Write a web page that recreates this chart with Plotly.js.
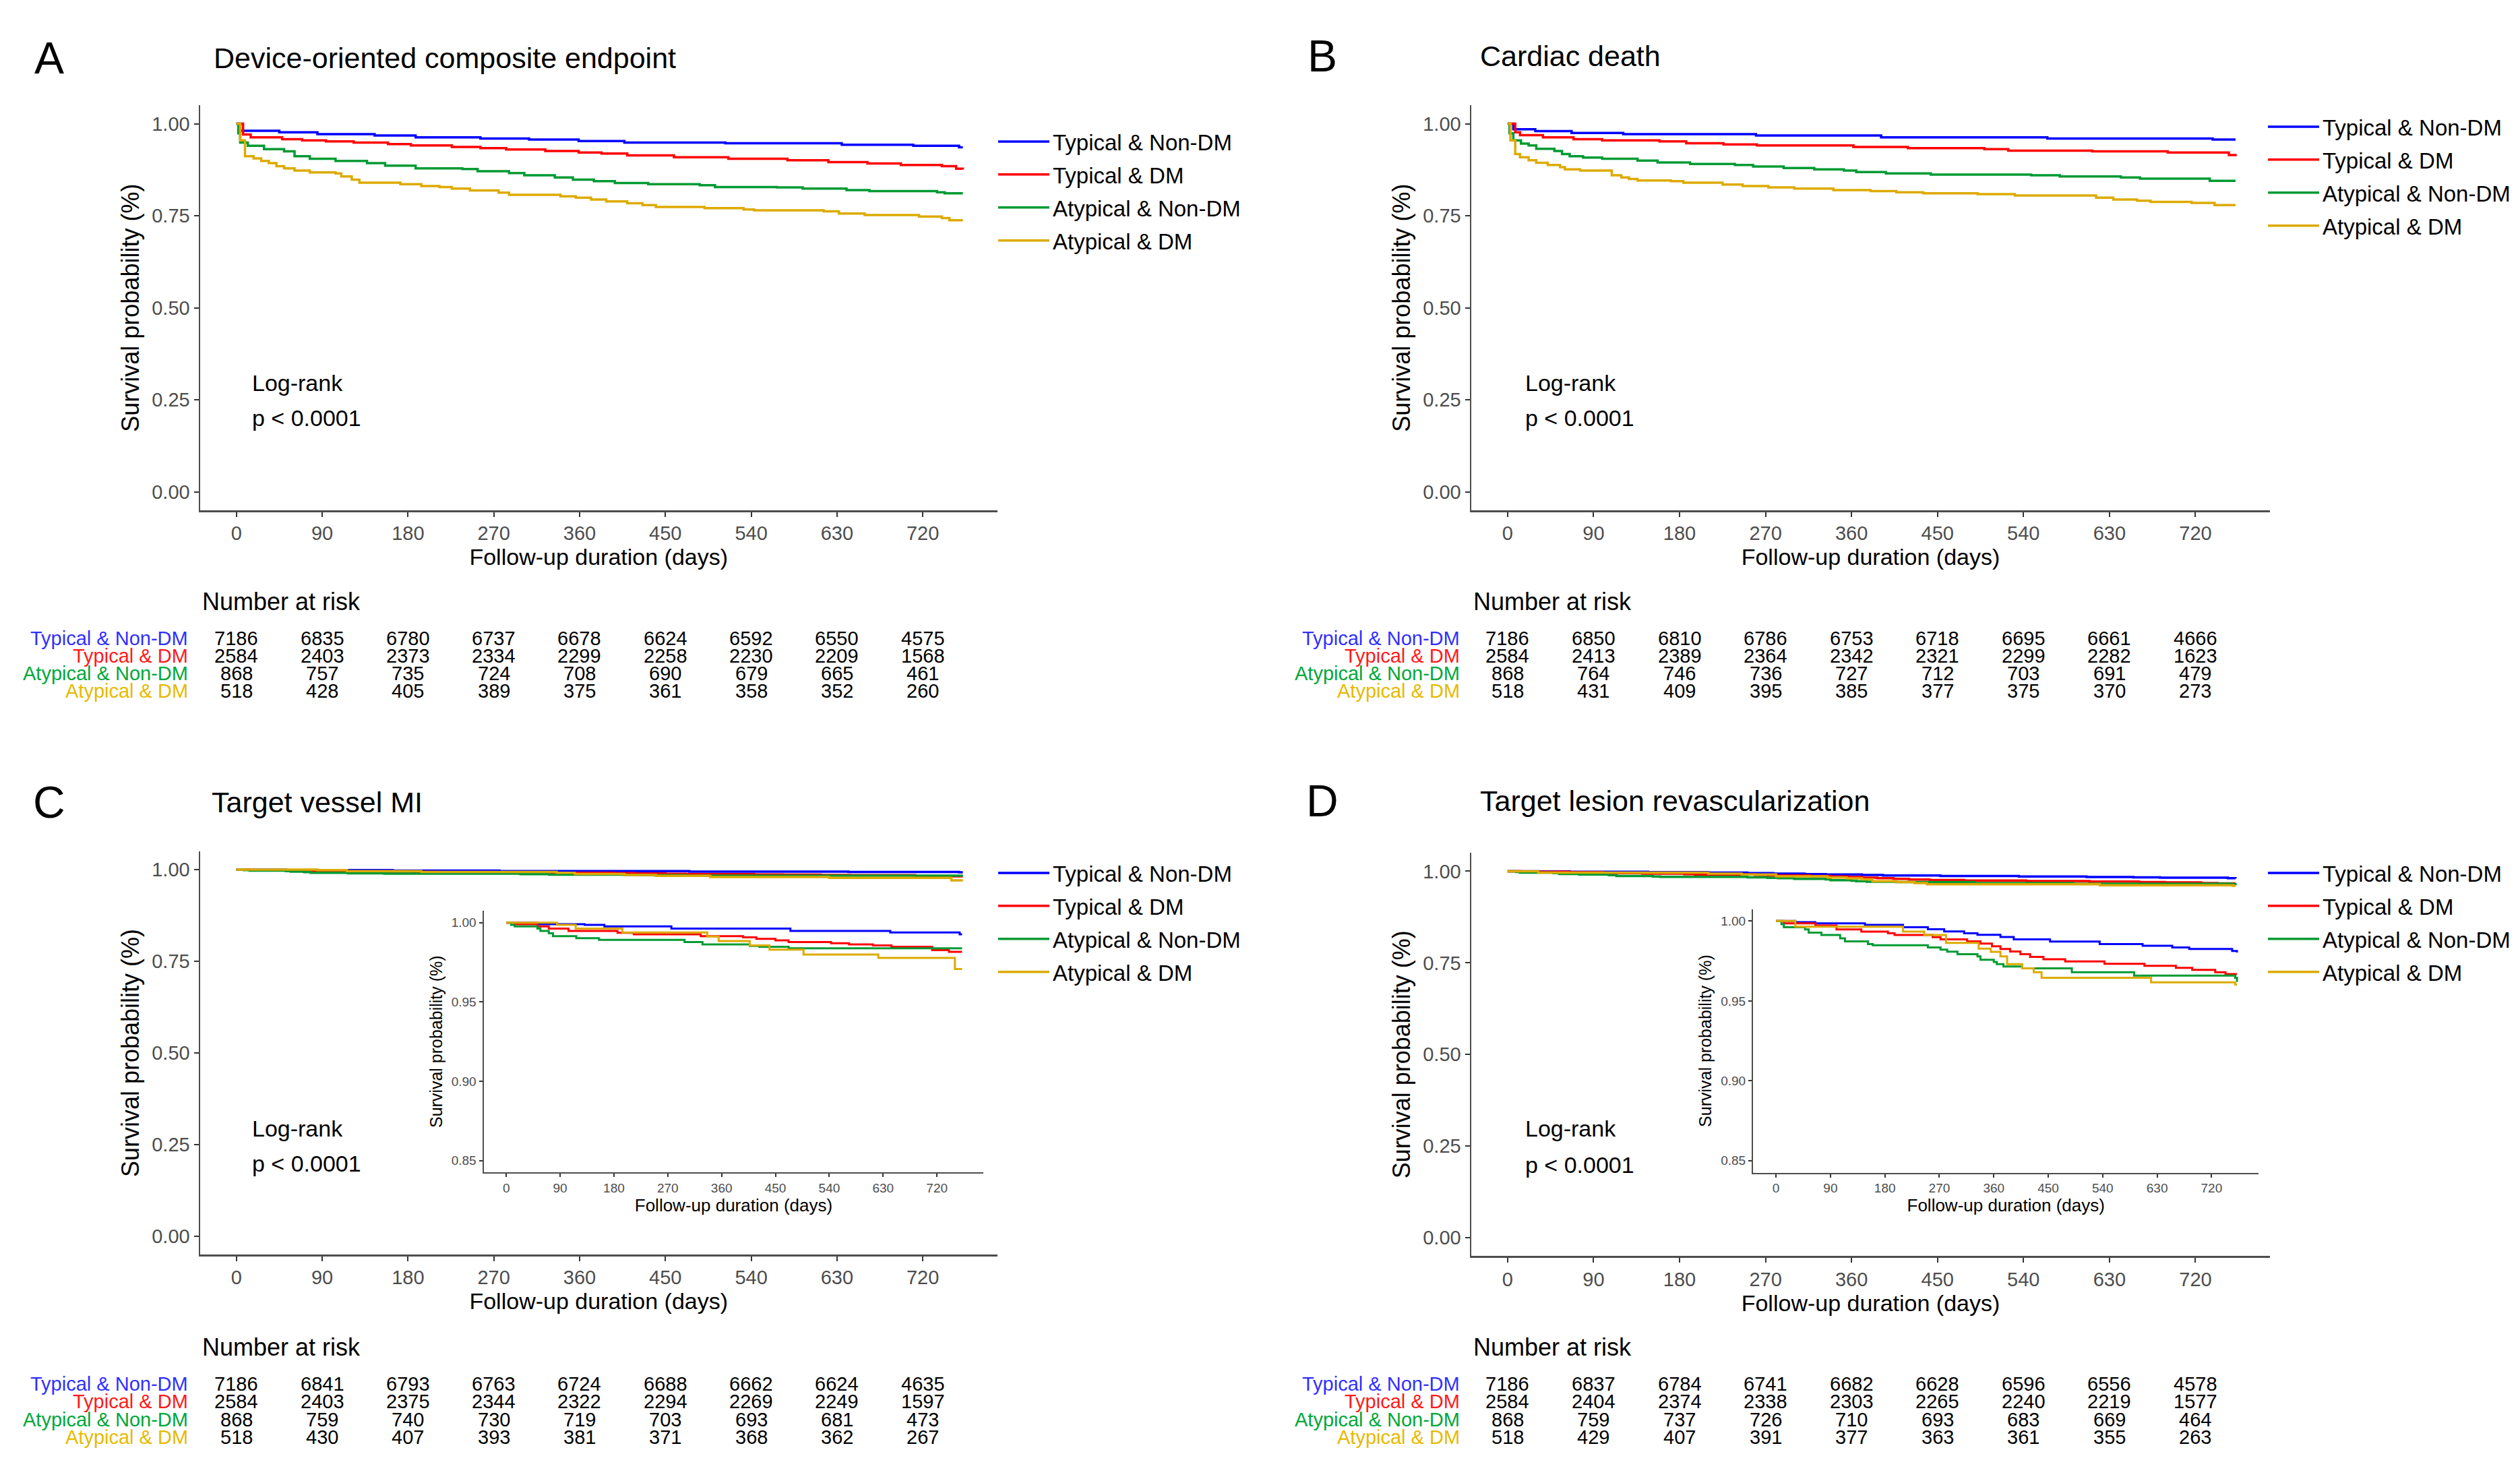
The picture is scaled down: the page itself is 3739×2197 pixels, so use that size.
<!DOCTYPE html>
<html>
<head>
<meta charset="utf-8">
<script src="https://cdn.plot.ly/plotly-3.0.1.min.js"></script>
<style>html,body{margin:0;padding:0;background:#fff;}#chart{width:3739px;height:2197px;}</style>
</head>
<body>
<div id="chart"></div>
<script>
// ---------------- DATA ----------------
const seriesNames = ['Typical & Non-DM', 'Typical & DM', 'Atypical & Non-DM', 'Atypical & DM'];
const panelTitles = ['Device-oriented composite endpoint', 'Cardiac death', 'Target vessel MI', 'Target lesion revascularization'];
const panelLetters = ['A', 'B', 'C', 'D'];
const xTickDays = [0, 90, 180, 270, 360, 450, 540, 630, 720];
const riskTimes = [0, 90, 180, 270, 360, 450, 540, 630, 720];

// Panel A: Device-oriented composite endpoint (time in days, survival)
const A_TN_t = [0, 4, 45, 85, 145, 188, 256, 307, 359, 407, 513, 635, 710, 758, 762];
const A_TN_s = [1, 0.981, 0.977, 0.972, 0.968, 0.963, 0.960, 0.957, 0.953, 0.949, 0.947, 0.943, 0.940, 0.936, 0.936];
const A_TD_t = [0, 7, 15, 48, 69, 94, 123, 159, 183, 226, 256, 283, 324, 359, 383, 410, 459, 516, 578, 621, 662, 697, 740, 755, 762];
const A_TD_s = [1, 0.971, 0.963, 0.958, 0.955, 0.952, 0.949, 0.945, 0.941, 0.937, 0.934, 0.930, 0.926, 0.922, 0.919, 0.914, 0.909, 0.905, 0.901, 0.896, 0.892, 0.888, 0.885, 0.878, 0.876];
const A_AN_t = [0, 2, 4, 12, 29, 50, 61, 77, 104, 137, 156, 188, 237, 253, 286, 302, 334, 353, 375, 397, 432, 486, 502, 567, 594, 640, 664, 735, 743, 762];
const A_AN_s = [1, 0.974, 0.949, 0.940, 0.931, 0.925, 0.912, 0.905, 0.899, 0.893, 0.886, 0.879, 0.877, 0.871, 0.866, 0.860, 0.854, 0.848, 0.844, 0.839, 0.836, 0.833, 0.828, 0.827, 0.824, 0.820, 0.817, 0.814, 0.811, 0.811];
const A_AD_t = [0, 4, 9, 18, 26, 34, 42, 50, 61, 77, 104, 110, 121, 129, 172, 194, 213, 226, 245, 275, 286, 340, 356, 372, 388, 410, 426, 440, 491, 532, 543, 616, 632, 659, 716, 740, 748, 762];
const A_AD_s = [1, 0.955, 0.912, 0.906, 0.899, 0.893, 0.885, 0.879, 0.873, 0.868, 0.865, 0.857, 0.848, 0.840, 0.836, 0.831, 0.828, 0.824, 0.819, 0.813, 0.807, 0.803, 0.799, 0.794, 0.789, 0.784, 0.779, 0.774, 0.771, 0.767, 0.765, 0.762, 0.756, 0.752, 0.748, 0.744, 0.738, 0.738];

// Panel B: Cardiac death
const B_TN_t = [0, 6, 29, 67, 121, 260, 391, 565, 738, 762];
const B_TN_s = [1, 0.985, 0.980, 0.975, 0.972, 0.968, 0.963, 0.960, 0.957, 0.957];
const B_TD_t = [0, 8, 13, 37, 69, 99, 159, 187, 226, 261, 362, 419, 499, 524, 612, 691, 755, 762];
const B_TD_s = [1, 0.977, 0.969, 0.963, 0.958, 0.955, 0.952, 0.947, 0.944, 0.941, 0.937, 0.934, 0.931, 0.927, 0.925, 0.922, 0.915, 0.912];
const B_AN_t = [0, 2, 6, 14, 22, 30, 49, 57, 65, 79, 99, 136, 157, 191, 238, 257, 289, 321, 352, 365, 396, 443, 548, 578, 642, 662, 735, 762];
const B_AN_s = [1, 0.974, 0.955, 0.946, 0.941, 0.932, 0.926, 0.918, 0.912, 0.908, 0.905, 0.900, 0.895, 0.891, 0.888, 0.884, 0.880, 0.876, 0.873, 0.869, 0.865, 0.862, 0.860, 0.857, 0.854, 0.851, 0.845, 0.845];
const B_AD_t = [0, 3, 8, 13, 22, 30, 42, 55, 60, 76, 109, 119, 127, 136, 171, 184, 225, 246, 273, 300, 341, 380, 407, 435, 492, 531, 616, 634, 659, 673, 716, 740, 762];
const B_AD_s = [1, 0.955, 0.918, 0.909, 0.901, 0.894, 0.888, 0.882, 0.876, 0.873, 0.860, 0.854, 0.850, 0.846, 0.844, 0.840, 0.835, 0.831, 0.827, 0.824, 0.820, 0.817, 0.814, 0.811, 0.809, 0.805, 0.799, 0.794, 0.791, 0.788, 0.785, 0.779, 0.779];

// Panel C: Target vessel MI
const C_TN_t = [0, 52, 131, 164, 276, 475, 642, 758, 762];
const C_TN_s = [1, 0.9990, 0.9986, 0.9976, 0.9962, 0.9948, 0.9938, 0.9926, 0.9926];
const C_TD_t = [0, 14, 52, 71, 104, 186, 213, 325, 396, 418, 450, 472, 543, 573, 613, 644, 712, 740, 762];
const C_TD_s = [1, 0.9990, 0.9976, 0.9962, 0.9948, 0.9936, 0.9926, 0.9915, 0.9907, 0.9898, 0.9888, 0.9877, 0.9870, 0.9863, 0.9856, 0.9848, 0.9827, 0.9816, 0.9816];
const C_AN_t = [0, 8, 14, 52, 57, 71, 78, 117, 155, 298, 328, 407, 423, 472, 762];
const C_AN_s = [1, 0.9986, 0.9976, 0.9962, 0.9948, 0.9933, 0.9915, 0.9902, 0.9891, 0.9877, 0.9863, 0.9853, 0.9848, 0.9838, 0.9838];
const C_AD_t = [0, 85, 116, 194, 336, 355, 407, 440, 497, 622, 750, 762];
const C_AD_s = [1, 0.9986, 0.9962, 0.9938, 0.9912, 0.9884, 0.9856, 0.9830, 0.9799, 0.9778, 0.9707, 0.9707];

// Panel D: Target lesion revascularization
const D_TN_t = [0, 32, 65, 147, 210, 251, 278, 311, 333, 371, 393, 453, 535, 606, 655, 683, 754, 762];
const D_TN_s = [1, 0.9993, 0.9986, 0.9976, 0.9962, 0.9949, 0.9935, 0.9923, 0.9914, 0.9900, 0.9886, 0.9872, 0.9856, 0.9845, 0.9835, 0.9825, 0.9813, 0.9803];
const D_TD_t = [0, 13, 65, 100, 141, 185, 196, 259, 272, 316, 338, 357, 371, 387, 404, 420, 442, 478, 543, 609, 661, 688, 726, 743, 762];
const D_TD_s = [1, 0.9986, 0.9972, 0.9948, 0.9934, 0.9923, 0.9913, 0.9899, 0.9885, 0.9873, 0.9859, 0.9842, 0.9825, 0.9810, 0.9793, 0.9776, 0.9761, 0.9747, 0.9733, 0.9720, 0.9707, 0.9695, 0.9680, 0.9668, 0.9668];
const D_AN_t = [0, 9, 13, 48, 54, 75, 106, 114, 152, 160, 251, 272, 283, 300, 333, 338, 360, 365, 376, 407, 489, 592, 759, 762];
const D_AN_s = [1, 0.9980, 0.9962, 0.9948, 0.9928, 0.9913, 0.9892, 0.9873, 0.9856, 0.9849, 0.9835, 0.9821, 0.9809, 0.9793, 0.9779, 0.9758, 0.9744, 0.9730, 0.9716, 0.9704, 0.9680, 0.9659, 0.9645, 0.9620];
const D_AD_t = [0, 32, 210, 245, 281, 335, 355, 371, 382, 407, 426, 439, 620, 759, 762];
const D_AD_s = [1, 0.9965, 0.9934, 0.9913, 0.9863, 0.9828, 0.9807, 0.9779, 0.9730, 0.9704, 0.9680, 0.9645, 0.9617, 0.9603, 0.9603];

// Number at risk tables
const A_risk_TN = [7186, 6835, 6780, 6737, 6678, 6624, 6592, 6550, 4575];
const A_risk_TD = [2584, 2403, 2373, 2334, 2299, 2258, 2230, 2209, 1568];
const A_risk_AN = [868, 757, 735, 724, 708, 690, 679, 665, 461];
const A_risk_AD = [518, 428, 405, 389, 375, 361, 358, 352, 260];
const B_risk_TN = [7186, 6850, 6810, 6786, 6753, 6718, 6695, 6661, 4666];
const B_risk_TD = [2584, 2413, 2389, 2364, 2342, 2321, 2299, 2282, 1623];
const B_risk_AN = [868, 764, 746, 736, 727, 712, 703, 691, 479];
const B_risk_AD = [518, 431, 409, 395, 385, 377, 375, 370, 273];
const C_risk_TN = [7186, 6841, 6793, 6763, 6724, 6688, 6662, 6624, 4635];
const C_risk_TD = [2584, 2403, 2375, 2344, 2322, 2294, 2269, 2249, 1597];
const C_risk_AN = [868, 759, 740, 730, 719, 703, 693, 681, 473];
const C_risk_AD = [518, 430, 407, 393, 381, 371, 368, 362, 267];
const D_risk_TN = [7186, 6837, 6784, 6741, 6682, 6628, 6596, 6556, 4578];
const D_risk_TD = [2584, 2404, 2374, 2338, 2303, 2265, 2240, 2219, 1577];
const D_risk_AN = [868, 759, 737, 726, 710, 693, 683, 669, 464];
const D_risk_AD = [518, 429, 407, 391, 377, 363, 361, 355, 263];

const logRankText = 'Log-rank';
const pValueText = 'p < 0.0001';

// ---------------- STYLE / LAYOUT ----------------
const W = 3739, H = 2197;
const FONT = 'Liberation Sans, Arial, sans-serif';
const lineColors = ['#0000FF', '#FF0000', '#009A33', '#DDAA00'];
const labelColors = ['#3030FF', '#FF1A1A', '#00A83A', '#E6BA00'];
const px = v => v / W;
const py = v => 1 - v / H;

const curves = [
  [[A_TN_t, A_TN_s], [A_TD_t, A_TD_s], [A_AN_t, A_AN_s], [A_AD_t, A_AD_s]],
  [[B_TN_t, B_TN_s], [B_TD_t, B_TD_s], [B_AN_t, B_AN_s], [B_AD_t, B_AD_s]],
  [[C_TN_t, C_TN_s], [C_TD_t, C_TD_s], [C_AN_t, C_AN_s], [C_AD_t, C_AD_s]],
  [[D_TN_t, D_TN_s], [D_TD_t, D_TD_s], [D_AN_t, D_AN_s], [D_AD_t, D_AD_s]]
];
const risks = [
  [A_risk_TN, A_risk_TD, A_risk_AN, A_risk_AD],
  [B_risk_TN, B_risk_TD, B_risk_AN, B_risk_AD],
  [C_risk_TN, C_risk_TD, C_risk_AN, C_risk_AD],
  [D_risk_TN, D_risk_TD, D_risk_AN, D_risk_AD]
];

// geometry (pixels in the 3739x2197 canvas)
const geo = [
  {xa: 'x',  ya: 'y',  xd: [297, 1479.5], yd: [156.3, 757], legend: 'legend',  leg: [1476, 182],
   letter: [73, 86], title: [315, 86], lr: [372, 568], pv: [372, 620], nar: [298, 892], labR: 281, rows: [947, 973, 999, 1025]},
  {xa: 'x2', ya: 'y2', xd: [2183, 3368], yd: [156.3, 757], legend: 'legend2', leg: [3360, 160],
   letter: [1962, 83], title: [2194, 83], lr: [2261, 568], pv: [2261, 620], nar: [2184, 892], labR: 2168, rows: [947, 973, 999, 1025]},
  {xa: 'x3', ya: 'y3', xd: [297, 1479.5], yd: [1262.9, 1861], legend: 'legend3', leg: [1476, 1267],
   letter: [73, 1190], title: [312, 1190], lr: [372, 1674], pv: [372, 1726], nar: [298, 1998], labR: 281, rows: [2053, 2079, 2106, 2132]},
  {xa: 'x4', ya: 'y4', xd: [2183, 3368], yd: [1265.3, 1863.3], legend: 'legend4', leg: [3360, 1267],
   letter: [1962, 1188], title: [2194, 1188], lr: [2261, 1674], pv: [2261, 1728], nar: [2184, 1998], labR: 2168, rows: [2053, 2079, 2106, 2132]}
];
const insets = [
  {panel: 2, xa: 'x5', ya: 'y5', xd: [717.5, 1459.4], yd: [1351, 1739.4]},
  {panel: 3, xa: 'x6', ya: 'y6', xd: [2601, 3351.4], yd: [1348.6, 1739.6]}
];

const traces = [];
const annotations = [];
const layout = {
  width: W, height: H,
  margin: {l: 0, r: 0, t: 0, b: 0, pad: 0},
  paper_bgcolor: '#ffffff', plot_bgcolor: '#ffffff',
  font: {family: FONT, color: '#000'},
  showlegend: true,
  annotations: annotations
};

function axisCommon(isInset) {
  return {
    showline: true, linecolor: '#4d4d4d', linewidth: isInset ? 2 : 2.5,
    showgrid: false, zeroline: false,
    ticks: 'outside', ticklen: isInset ? 5 : 7, tickwidth: 2, tickcolor: '#333333',
    tickfont: {family: FONT, size: isInset ? 19 : 29, color: '#4D4D4D'},
    fixedrange: true
  };
}

geo.forEach((g, p) => {
  const xn = g.xa === 'x' ? 'xaxis' : 'xaxis' + g.xa.slice(1);
  const yn = g.ya === 'y' ? 'yaxis' : 'yaxis' + g.ya.slice(1);
  layout[xn] = Object.assign(axisCommon(false), {
    domain: [px(g.xd[0]), px(g.xd[1])], anchor: g.ya, range: [-38, 798],
    tickmode: 'array', tickvals: xTickDays, ticktext: xTickDays.map(String),
    title: {text: 'Follow-up duration (days)', font: {family: FONT, size: 34, color: '#000'}, standoff: 4}
  });
  layout[yn] = Object.assign(axisCommon(false), {
    domain: [py(g.yd[1]), py(g.yd[0])], anchor: g.xa, range: [-0.05, 1.05],
    tickmode: 'array', tickvals: [0, 0.25, 0.5, 0.75, 1], tickformat: '.2f',
    title: {text: 'Survival probability (%)', font: {family: FONT, size: 36, color: '#000'}, standoff: 8}
  });
  layout[g.legend] = {
    x: px(g.leg[0]), y: py(g.leg[1]), xanchor: 'left', yanchor: 'top',
    bgcolor: 'rgba(0,0,0,0)', borderwidth: 0,
    font: {family: FONT, size: 33, color: '#000'},
    itemwidth: 76, tracegroupgap: 3, traceorder: 'grouped'
  };
  curves[p].forEach((c, i) => {
    traces.push({
      type: 'scatter', mode: 'lines', x: c[0], y: c[1],
      xaxis: g.xa, yaxis: g.ya, name: seriesNames[i],
      legend: g.legend, legendgroup: 'g' + p + '_' + i, showlegend: true,
      line: {shape: 'hv', color: lineColors[i], width: 3.5},
      hoverinfo: 'skip'
    });
  });
  // panel letter & title
  annotations.push({xref: 'paper', yref: 'paper', x: px(g.letter[0]), y: py(g.letter[1]), text: panelLetters[p],
    showarrow: false, xanchor: 'center', yanchor: 'middle', font: {family: FONT, size: 66, color: '#000'}});
  annotations.push({xref: 'paper', yref: 'paper', x: px(g.title[0]), y: py(g.title[1]), text: panelTitles[p],
    showarrow: false, xanchor: 'left', yanchor: 'middle', font: {family: FONT, size: 43, color: '#000'}});
  annotations.push({xref: 'paper', yref: 'paper', x: px(g.lr[0]), y: py(g.lr[1]), text: logRankText,
    showarrow: false, xanchor: 'left', yanchor: 'middle', font: {family: FONT, size: 34, color: '#000'}});
  annotations.push({xref: 'paper', yref: 'paper', x: px(g.pv[0]), y: py(g.pv[1]), text: pValueText,
    showarrow: false, xanchor: 'left', yanchor: 'middle', font: {family: FONT, size: 34, color: '#000'}});
  annotations.push({xref: 'paper', yref: 'paper', x: px(g.nar[0]), y: py(g.nar[1]), text: 'Number at risk',
    showarrow: false, xanchor: 'left', yanchor: 'middle', font: {family: FONT, size: 36, color: '#000'}});
  // risk table
  risks[p].forEach((row, i) => {
    annotations.push({xref: 'paper', yref: 'paper', x: px(g.labR), y: py(g.rows[i]), text: seriesNames[i],
      showarrow: false, xanchor: 'right', yanchor: 'middle', font: {family: FONT, size: 29, color: labelColors[i]}});
    row.forEach((n, k) => {
      annotations.push({xref: g.xa, yref: 'paper', x: riskTimes[k], y: py(g.rows[i]), text: String(n),
        showarrow: false, xanchor: 'center', yanchor: 'middle', font: {family: FONT, size: 29, color: '#000'}});
    });
  });
});

insets.forEach(ins => {
  const xn = 'xaxis' + ins.xa.slice(1);
  const yn = 'yaxis' + ins.ya.slice(1);
  layout[xn] = Object.assign(axisCommon(true), {
    domain: [px(ins.xd[0]), px(ins.xd[1])], anchor: ins.ya, range: [-38, 798],
    tickmode: 'array', tickvals: xTickDays, ticktext: xTickDays.map(String),
    title: {text: 'Follow-up duration (days)', font: {family: FONT, size: 26, color: '#000'}, standoff: 4}
  });
  layout[yn] = Object.assign(axisCommon(true), {
    domain: [py(ins.yd[1]), py(ins.yd[0])], anchor: ins.xa, range: [0.8425, 1.0075],
    tickmode: 'array', tickvals: [0.85, 0.90, 0.95, 1.00], tickformat: '.2f',
    title: {text: 'Survival probability (%)', font: {family: FONT, size: 25, color: '#000'}, standoff: 6}
  });
  curves[ins.panel].forEach((c, i) => {
    traces.push({
      type: 'scatter', mode: 'lines', x: c[0], y: c[1],
      xaxis: ins.xa, yaxis: ins.ya, name: seriesNames[i], showlegend: false,
      line: {shape: 'hv', color: lineColors[i], width: 3},
      hoverinfo: 'skip'
    });
  });
});

Plotly.newPlot('chart', traces, layout, {staticPlot: true, displayModeBar: false});
</script>
</body>
</html>
